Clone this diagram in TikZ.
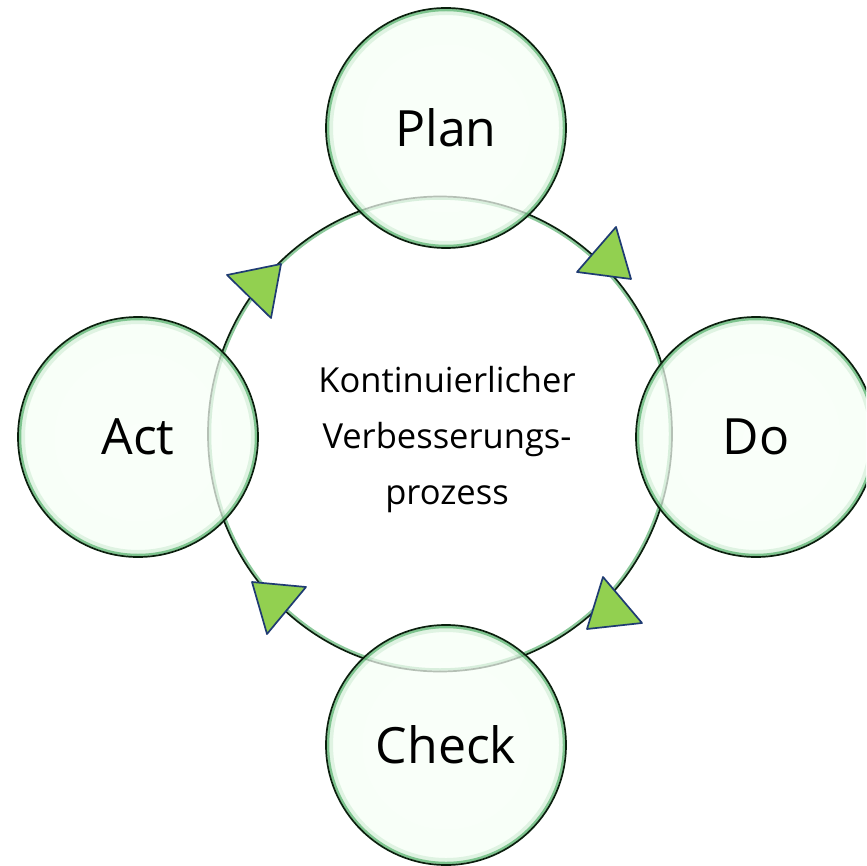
\documentclass[tikz,border=0pt]{standalone}
\usepackage{fontspec}
\setmainfont{Open Sans}
\usetikzlibrary{shapes.geometric}
\definecolor{glow}{HTML}{2E9E4A}
\definecolor{rim}{HTML}{0A1F0D}
\definecolor{trifill}{HTML}{92D050}
\definecolor{triedge}{HTML}{1F3B73}
\pgfdeclareradialshading{bubshade}{\pgfpoint{0bp}{0bp}}{%
  color(0bp)=(white!60!green!6!white);
  color(30bp)=(green!4!white);
  color(44bp)=(green!9!white);
  color(50bp)=(green!18!white);
  color(100bp)=(green!18!white)}
\pgfdeclareradialshading{bigshade}{\pgfpoint{0bp}{0bp}}{%
  color(0bp)=(white);
  color(42bp)=(white);
  color(48bp)=(green!5!white);
  color(50bp)=(green!12!white);
  color(100bp)=(green!12!white)}
\tikzset{
  label/.style={font=\fontsize{50}{60}\selectfont, text=black},
  tri/.style={draw=triedge, fill=trifill, line width=1.7pt, line join=round},
  glowline/.style={draw=glow, line width=2.5pt, opacity=0.55},
  rimline/.style={draw=rim, line width=1.7pt},
}
\begin{document}
\begin{tikzpicture}[x=1pt,y=-1pt]
\useasboundingbox (0,0) rectangle (866,866);
\fill[white] (0,0) rectangle (866,866);
\begin{scope}
\clip (0,0) rectangle (866,866);
% big circle
\coordinate (C) at (440,434);
\shade[shading=bigshade] (C) ellipse [x radius=232, y radius=237.5];
\draw[glowline] (C) ellipse [x radius=230, y radius=235.5];
\draw[rimline] (C) ellipse [x radius=232, y radius=237.5];
% small bubbles
\foreach \n/\x/\y in {P/446/128, D/756/437, A/138/437, K/446/745}{
  \coordinate (\n) at (\x,\y);
  \shade[shading=bubshade, fill opacity=0.72] (\n) circle [radius=120];
  \draw[glow, line width=6pt, opacity=0.12] (\n) circle [radius=116];
  \draw[glowline] (\n) circle [radius=118];
  \draw[rimline] (\n) circle [radius=120];
}
\end{scope}
\node[label] (plan) at (446,128) {Plan};
\node[label] (do) at (756,437) {Do};
\node[label] (act) at (138,437) {Act};
\node[label] (check) at (446,745) {Check};
\node[align=center, font=\fontsize{34.5}{56}\selectfont] (center) at (447,440)
  {Kontinuierlicher\\Verbesserungs-\\prozess};
% arrow triangles
\draw[tri] (227,275) -- (281,264) -- (271,318) -- cycle;
\draw[tri] (616,227) -- (631,279) -- (577,272) -- cycle;
\draw[tri] (603,577) -- (642,623) -- (587,629) -- cycle;
\draw[tri] (252,582) -- (306,587) -- (267,634) -- cycle;
\end{tikzpicture}
\end{document}
